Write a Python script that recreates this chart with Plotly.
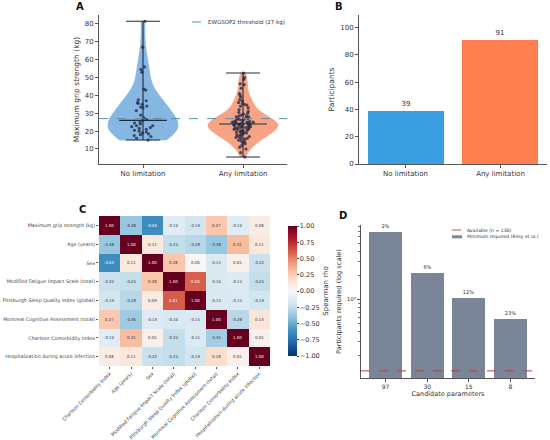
"""
Figure en quatre panneaux : force de préhension, effectifs,
corrélations de Spearman et taille d'échantillon requise.
"""

import numpy as np
import plotly.graph_objects as go

W, H = 550, 440

# ---- Panel A : grip strength per group
GROUPS = ["No limitation", "Any limitation"]
GRIP_NO_LIMIT = [81.5, 67.0, 56.0, 54.5, 53.0, 43.5, 43.0, 37.5, 37.0, 36.0,
                 35.5, 35.0, 34.0, 33.5, 33.0, 31.5, 29.0, 27.5, 26.5, 26.0,
                 25.0, 24.5, 24.0, 23.0, 23.0, 22.5, 22.0, 21.5, 21.0, 20.5,
                 20.0, 19.5, 19.0, 18.5, 18.0, 17.5, 17.0, 16.0, 15.0]
GRIP_ANY_LIMIT = [52.5, 50.0, 49.0, 46.5, 46.0, 44.0, 41.0, 40.0, 39.0, 37.5,
                  37.0, 36.0, 35.5, 35.0, 34.5, 34.0, 33.0, 32.0, 31.0, 30.5,
                  30.0, 29.5, 29.0, 28.5, 28.5, 28.0, 28.0, 27.5, 27.0, 27.0,
                  26.5, 26.5, 26.0, 26.0, 25.5, 25.5, 25.0, 25.0, 25.0, 24.5,
                  24.5, 24.5, 24.5, 24.5, 24.2, 24.0,
                  23.8, 23.5, 23.5, 23.0, 23.0, 23.0, 22.5, 22.5, 22.5, 22.0,
                  22.0, 22.0, 21.5, 21.5, 21.0, 21.0, 21.0, 20.5, 20.5, 20.0,
                  20.0, 19.5, 19.5, 19.0, 19.0, 18.5, 18.0, 18.0, 17.5, 17.0,
                  17.0, 16.5, 16.0, 16.0, 15.5, 15.0, 14.5, 14.0, 13.5, 13.0,
                  12.0, 11.0, 10.0, 8.0, 5.5]
THRESHOLD_KG = 27

# ---- Panel B : participants per group
PARTICIPANTS = [39, 91]

# ---- Panel C : Spearman correlation matrix
ROW_LABELS = ["Maximum grip strength (kg)", "Age (years)", "Sex",
              "Modified Fatigue Impact Scale (total)",
              "Pittsburgh Sleep Quality Index (global)",
              "Montreal Cognitive Assessment (total)",
              "Charlson Comorbidity Index",
              "Hospitalization during acute infection"]
COL_LABELS = ["Charlson Comorbidity Index", "Age (years)", "Sex",
              "Modified Fatigue Impact Scale (total)",
              "Pittsburgh Sleep Quality Index (global)",
              "Montreal Cognitive Assessment (total)",
              "Charlson Comorbidity Index",
              "Hospitalization during acute infection"]
RHO = [
    [1.00, -0.38, -0.63, -0.12, -0.19, 0.27, -0.12, 0.08],
    [-0.38, 1.00, 0.11, -0.24, -0.28, -0.38, 0.31, 0.11],
    [-0.63, 0.11, 1.00, 0.28, 0.00, -0.15, 0.05, -0.22],
    [-0.22, -0.24, 0.28, 1.00, 0.60, -0.16, -0.14, -0.24],
    [-0.19, -0.28, 0.09, 0.61, 1.00, -0.15, -0.15, -0.19],
    [0.27, -0.36, -0.13, -0.16, -0.15, 1.00, -0.28, 0.13],
    [-0.12, 0.31, 0.05, -0.24, -0.15, -0.35, 1.00, 0.05],
    [0.08, 0.11, -0.22, -0.24, -0.19, 0.18, 0.05, 1.00],
]

# ---- Panel D : sample size needed
CANDIDATES = ["97", "30", "15", "8"]
REQUIRED = [6950, 2160, 1060, 570]
AVAILABLE = 130

FONT = "DejaVu Sans"
TXT = "#333333"
THRESH_COLOR = "#5b8fa8"
AVAIL_COLOR = "#b5403a"
BAR_D_COLOR = "#7b8598"


def fx(p):
    return p / W


def fy(p):
    return 1 - p / H


fig = go.Figure()
annotations = []
shapes = []

# --- A
violin_colors = ["#86b7e3", "#f8a385"]
for i, (vals, col) in enumerate(zip([GRIP_NO_LIMIT, GRIP_ANY_LIMIT], violin_colors)):
    v = np.array(vals)
    bw = v.std(ddof=1) * len(v) ** (-0.2)
    fig.add_trace(go.Violin(
        x=[i] * len(v), y=v, width=0.7, bandwidth=bw, spanmode="hard",
        fillcolor=col, line=dict(color=col, width=0.6), opacity=1,
        points="all", pointpos=0, jitter=0.35,
        marker=dict(size=3.2, color="rgba(35,45,75,0.8)"),
        showlegend=False, xaxis="x", yaxis="y"))
    med = float(np.median(v))
    fig.add_trace(go.Scatter(
        x=[i], y=[med], mode="markers", showlegend=False,
        marker=dict(symbol="line-ew", size=34, color="#222a3a",
                    line=dict(color="#222a3a", width=1.1)),
        error_y=dict(type="data", symmetric=False, array=[v.max() - med],
                     arrayminus=[med - v.min()], width=17, thickness=1.1,
                     color="#222a3a"),
        xaxis="x", yaxis="y"))

A_XR = [-0.44, 1.44]
fig.add_trace(go.Scatter(
    x=A_XR, y=[THRESHOLD_KG] * 2, mode="lines",
    line=dict(color=THRESH_COLOR, dash="dash", width=1),
    showlegend=False, xaxis="x", yaxis="y"))

# legend A (drawn by hand, matplotlib style)
shapes.append(dict(type="line", xref="paper", yref="paper",
                   x0=fx(192), x1=fx(203), y0=fy(22), y1=fy(22),
                   line=dict(color=THRESH_COLOR, dash="dash", width=1)))
annotations.append(dict(x=fx(206), y=fy(22), xref="paper", yref="paper",
                        text=f"EWGSOP2 threshold ({THRESHOLD_KG} kg)",
                        showarrow=False, xanchor="left", yanchor="middle",
                        font=dict(size=5.5, color=TXT)))

# --- B
fig.add_trace(go.Bar(
    x=[0, 1], y=PARTICIPANTS, width=0.8,
    marker=dict(color=["#3a9fe0", "#ff7f50"], line=dict(width=0)),
    text=[str(p) for p in PARTICIPANTS], textposition="outside",
    textfont=dict(size=7, color=TXT), cliponaxis=False,
    showlegend=False, xaxis="x2", yaxis="y2"))

# --- C
rdbu_r = ["rgb(5,48,97)", "rgb(33,102,172)", "rgb(67,147,195)",
          "rgb(146,197,222)", "rgb(209,229,240)", "rgb(247,247,247)",
          "rgb(253,219,199)", "rgb(244,165,130)", "rgb(214,96,77)",
          "rgb(178,24,43)", "rgb(103,0,31)"]
cs = [[k / 10, c] for k, c in enumerate(rdbu_r)]
n = len(ROW_LABELS)
fig.add_trace(go.Heatmap(
    z=RHO, x=list(range(n)), y=list(range(n)), colorscale=cs,
    zmin=-1, zmax=1, xaxis="x3", yaxis="y3", showscale=True,
    colorbar=dict(
        x=fx(278), xanchor="left", y=(fy(366) + fy(216)) / 2,
        yanchor="middle", len=150, lenmode="pixels", thickness=9,
        outlinewidth=0, ticks="outside", ticklen=2,
        tickvals=[-1, -0.75, -0.5, -0.25, 0, 0.25, 0.5, 0.75, 1],
        tickformat=".2f", tickfont=dict(size=6.5, color=TXT),
        title=dict(text="Spearman rho", side="right",
                   font=dict(size=7, color=TXT)))))

for r in range(n):
    for c in range(n):
        val = RHO[r][c]
        annotations.append(dict(
            x=c, y=r, xref="x3", yref="y3", text=f"{val:.2f}",
            showarrow=False,
            font=dict(size=3.9, color="white" if abs(val) > 0.5 else "#333")))

# --- D
D_XR = [-0.59, 3.59]
fig.add_trace(go.Scatter(
    x=D_XR, y=[AVAILABLE] * 2, mode="lines",
    line=dict(color=AVAIL_COLOR, dash="dash", width=1),
    showlegend=False, xaxis="x4", yaxis="y4"))
pct = [f"{round(100 * AVAILABLE / r)}%" for r in REQUIRED]
fig.add_trace(go.Bar(
    x=list(range(len(CANDIDATES))), y=REQUIRED, width=0.8,
    marker=dict(color=BAR_D_COLOR, line=dict(width=0)),
    text=pct, textposition="outside", textfont=dict(size=5, color=TXT),
    cliponaxis=False, showlegend=False, xaxis="x4", yaxis="y4"))

# legend D (drawn by hand)
shapes.append(dict(type="line", xref="paper", yref="paper",
                   x0=fx(452), x1=fx(462), y0=fy(230), y1=fy(230),
                   line=dict(color=AVAIL_COLOR, dash="dash", width=0.9)))
shapes.append(dict(type="rect", xref="paper", yref="paper",
                   x0=fx(452), x1=fx(462), y0=fy(238.3), y1=fy(235.3),
                   fillcolor=BAR_D_COLOR, line=dict(width=0)))
annotations.append(dict(x=fx(465), y=fy(230), xref="paper", yref="paper",
                        text=f"Available (n = {AVAILABLE})", showarrow=False,
                        xanchor="left", yanchor="middle",
                        font=dict(size=4.6, color=TXT)))
annotations.append(dict(x=fx(465), y=fy(236.8), xref="paper", yref="paper",
                        text="Minimum required (Riley et al.)", showarrow=False,
                        xanchor="left", yanchor="middle",
                        font=dict(size=4.6, color=TXT)))

# panel letters
for letter, x, y in [("A", 80, 7), ("B", 339, 7), ("C", 82, 209), ("D", 343, 215)]:
    annotations.append(dict(
        x=fx(x), y=fy(y), xref="paper", yref="paper", text=f"<b>{letter}</b>",
        showarrow=False, font=dict(size=10, color="#111"),
        xanchor="center", yanchor="middle"))

axis_common = dict(showline=True, linecolor="#555", linewidth=0.8,
                   ticks="outside", ticklen=3, tickcolor="#555",
                   showgrid=False, zeroline=False, automargin=False)

fig.update_layout(
    width=W, height=H,
    margin=dict(l=0, r=0, t=0, b=0, autoexpand=False),
    paper_bgcolor="white", plot_bgcolor="white",
    font=dict(family=FONT, color=TXT),
    violinmode="overlay", bargap=0, showlegend=False,
    annotations=annotations, shapes=shapes,
    xaxis=dict(domain=[fx(99), fx(287)], range=A_XR, tickvals=[0, 1],
               ticktext=GROUPS, tickfont=dict(size=7), **axis_common),
    yaxis=dict(domain=[fy(164), fy(15)], range=[1.6, 85],
               tickvals=list(range(10, 81, 10)), tickfont=dict(size=7),
               title=dict(text="Maximum grip strength (kg)",
                          font=dict(size=7.5), standoff=4),
               **axis_common),
    xaxis2=dict(domain=[fx(359), fx(547)], range=[-0.49, 1.49],
                tickvals=[0, 1], ticktext=GROUPS, tickfont=dict(size=7),
                anchor="y2", **axis_common),
    yaxis2=dict(domain=[fy(164), fy(15)], range=[0, 109.2],
                tickvals=list(range(0, 101, 20)), tickfont=dict(size=7),
                title=dict(text="Participants", font=dict(size=7.5), standoff=4),
                anchor="x2", **axis_common),
    xaxis3=dict(domain=[fx(99), fx(270)], range=[-0.5, n - 0.5],
                tickvals=list(range(n)), ticktext=COL_LABELS, tickangle=-45,
                tickfont=dict(size=4.8, color="#444"), ticks="outside",
                ticklen=2, tickcolor="#555", showgrid=False, zeroline=False,
                automargin=False, anchor="y3"),
    yaxis3=dict(domain=[fy(366), fy(216)], range=[n - 0.5, -0.5],
                tickvals=list(range(n)), ticktext=ROW_LABELS,
                tickfont=dict(size=4.8, color="#444"), ticks="outside",
                ticklen=2, tickcolor="#555", showgrid=False, zeroline=False,
                automargin=False, anchor="x3"),
    xaxis4=dict(domain=[fx(361), fx(535)], range=D_XR,
                tickvals=list(range(len(CANDIDATES))), ticktext=CANDIDATES,
                tickfont=dict(size=6),
                title=dict(text="Candidate parameters", font=dict(size=6.5),
                           standoff=2),
                anchor="y4", **axis_common),
    yaxis4=dict(domain=[fy(378), fy(225)], type="log",
                range=[np.log10(106), np.log10(8430)],
                tickvals=[1000], ticktext=["10³"], tickfont=dict(size=5.5),
                minor=dict(ticks="outside", ticklen=2, tickcolor="#777",
                           tickvals=[200, 300, 400, 500, 600, 700, 800, 900,
                                     2000, 3000, 4000, 5000, 6000, 7000, 8000],
                           showgrid=False),
                title=dict(text="Participants required (log scale)",
                           font=dict(size=6.6), standoff=4),
                anchor="x4", **axis_common),
)

# la page HTML a une marge de 8 px par défaut : on la retire
fig.write_html("out.html", config={"displayModeBar": False},
               post_script="document.body.style.margin='0';")
